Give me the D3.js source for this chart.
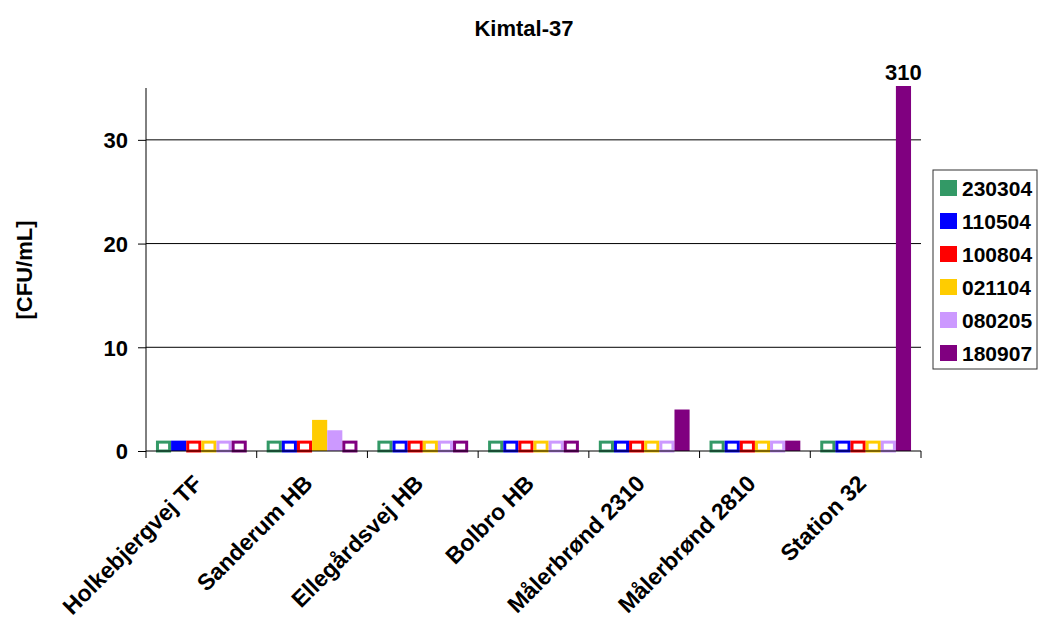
<!DOCTYPE html>
<html>
<head>
<meta charset="utf-8">
<script src="https://cdn.jsdelivr.net/npm/d3@7"></script>
<style>
  body { margin: 0; background: #fff; }
  svg text { font-family: "Liberation Sans", Arial, sans-serif; font-weight: bold; }
</style>
</head>
<body>
<div id="chart"></div>
<script>
// sites along the x axis
var categories = ["Holkebjergvej TF", "Sanderum HB", "Ellegårdsvej HB", "Bolbro HB", "Målerbrønd 2310", "Målerbrønd 2810", "Station 32"];
var seriesNames = ["230304", "110504", "100804", "021104", "080205", "180907"];
var seriesColors = ["#339966", "#0000ff", "#ff0000", "#ffcc00", "#cc99ff", "#800080"];

// "<1" = below detection limit, drawn as hollow bar at 1
var s230304 = ["<1", "<1", "<1", "<1", "<1", "<1", "<1"];
var s110504 = [1, "<1", "<1", "<1", "<1", "<1", "<1"];
var s100804 = ["<1", "<1", "<1", "<1", "<1", "<1", "<1"];
var s021104 = ["<1", 3, "<1", "<1", "<1", "<1", "<1"];
var s080205 = ["<1", 2, "<1", "<1", "<1", "<1", "<1"];
var s180907 = ["<1", "<1", "<1", "<1", 4, 1, 310];
var allSeries = [s230304, s110504, s100804, s021104, s080205, s180907];

var yTicks = [0, 10, 20, 30];
var yMax = 35;

var width = 1046, height = 623;
var margin = { left: 146, right: 125, top: 88, bottom: 172 };
var pw = width - margin.left - margin.right;
var ph = height - margin.top - margin.bottom;

var svg = d3.select("#chart").append("svg")
    .attr("width", width)
    .attr("height", height);

svg.append("text")
    .attr("x", 524).attr("y", 36)
    .attr("text-anchor", "middle")
    .attr("font-size", 22)
    .text("Kimtal-37");

var g = svg.append("g").attr("transform", "translate(" + margin.left + "," + margin.top + ")");

var x = d3.scaleBand().domain(categories).range([0, pw]).paddingInner(0.18).paddingOuter(0.09);
var xs = d3.scaleBand().domain(seriesNames).range([0, x.bandwidth()]);
var y = d3.scaleLinear().domain([0, yMax]).range([ph, 0]);

// gridlines
g.selectAll(".grid").data(yTicks.filter(function (d) { return d > 0; }))
  .enter().append("line")
    .attr("x1", 0).attr("x2", pw)
    .attr("y1", function (d) { return y(d); })
    .attr("y2", function (d) { return y(d); })
    .attr("stroke", "#000").attr("stroke-width", 1);

// bars
var rows = [];
allSeries.forEach(function (vals, si) {
    vals.forEach(function (v, ci) {
        var hollow = (v === "<1");
        rows.push({ cat: categories[ci], s: seriesNames[si], color: seriesColors[si],
                    value: hollow ? 1 : v, hollow: hollow });
    });
});

g.append("clipPath").attr("id", "plotclip")
  .append("rect").attr("x", 0).attr("y", -2).attr("width", pw + 2).attr("height", ph + 4);

var bars = g.append("g").attr("clip-path", "url(#plotclip)");
bars.selectAll("rect").data(rows).enter().append("rect")
    .attr("x", function (d) { return x(d.cat) + xs(d.s) + (d.hollow ? 1.5 : 0); })
    .attr("width", function (d) { return xs.bandwidth() - (d.hollow ? 3 : 0); })
    .attr("y", function (d) { return y(Math.min(d.value, yMax + 0.2)) + (d.hollow ? 1.5 : 0); })
    .attr("height", function (d) { return ph - y(Math.min(d.value, yMax + 0.2)) - (d.hollow ? 1.5 : 0); })
    .attr("fill", function (d) { return d.hollow ? "#fff" : d.color; })
    .attr("stroke", function (d) { return d.hollow ? d.color : "none"; })
    .attr("stroke-width", 3);

// label for clipped bar
rows.filter(function (d) { return d.value > yMax; }).forEach(function (d) {
    g.append("text")
        .attr("x", x(d.cat) + xs(d.s) + xs.bandwidth() / 2)
        .attr("y", -8)
        .attr("text-anchor", "middle")
        .attr("font-size", 22)
        .text(d.value);
});

// axes
var yAxis = d3.axisLeft(y).tickValues(yTicks).tickSize(8).tickPadding(10);
var ya = g.append("g").call(yAxis);
ya.select(".domain").attr("d", "M0," + ph + "V0");
ya.selectAll("text").attr("font-size", 22).attr("font-family", null).attr("dy", "0.36em");

var xAxis = d3.axisBottom(x).tickSize(0).tickFormat("");
var xa = g.append("g").attr("transform", "translate(0," + ph + ")").call(xAxis);
xa.select(".domain").attr("d", "M0,0H" + pw);
var bounds = d3.range(categories.length + 1).map(function (i) { return i * pw / categories.length; });
xa.selectAll(".bt").data(bounds).enter().append("line")
    .attr("x1", function (d) { return d; }).attr("x2", function (d) { return d; })
    .attr("y1", 0).attr("y2", 7).attr("stroke", "#000");

xa.selectAll(".lbl").data(categories).enter().append("text")
    .attr("transform", function (d) {
        return "translate(" + (x(d) + x.bandwidth() / 2 + 2) + ",34) rotate(-45)";
    })
    .attr("text-anchor", "end")
    .attr("font-size", 23)
    .attr("fill", "#000")
    .text(function (d) { return d; });

// y title
svg.append("text")
    .attr("transform", "translate(32,270) rotate(-90)")
    .attr("text-anchor", "middle")
    .attr("font-size", 22)
    .text("[CFU/mL]");

// legend
var lg = svg.append("g").attr("transform", "translate(933,170)");
lg.append("rect").attr("width", 104).attr("height", 199)
    .attr("fill", "#fff").attr("stroke", "#333").attr("stroke-width", 1);
var items = lg.selectAll(".li").data(seriesNames).enter().append("g")
    .attr("transform", function (d, i) { return "translate(0," + (18 + i * 33) + ")"; });
items.append("rect").attr("x", 7).attr("y", -8).attr("width", 17).attr("height", 16)
    .attr("fill", function (d, i) { return seriesColors[i]; });
items.append("text").attr("x", 29).attr("y", 0).attr("dy", "0.36em")
    .attr("font-size", 21).text(function (d) { return d; });
</script>
</body>
</html>
